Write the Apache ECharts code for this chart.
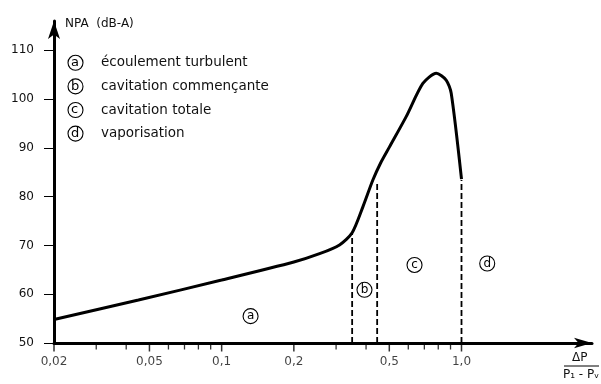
<!DOCTYPE html>
<html><head><meta charset="utf-8">
<script src="https://cdn.jsdelivr.net/npm/echarts@6/dist/echarts.min.js"></script>
<style>html,body{margin:0;padding:0;background:#fff}#c{width:601px;height:384px}</style>
</head><body><div id="c"></div>
<script>
// ---- data ----
const curveX = [0.02, 0.045, 0.1, 0.2, 0.256, 0.31, 0.35, 0.388, 0.427, 0.46, 0.501, 0.588, 0.69, 0.785, 0.863, 0.906, 1.0];
const curveY = [54.8, 58.8, 62.9, 66.6, 68.3, 70.1, 72.6, 77.9, 83.4, 86.9, 90.2, 96.4, 103.2, 105.3, 103.9, 101.2, 83.6];
const xTickValues = [0.02, 0.05, 0.1, 0.2, 0.5, 1.0];
const xTickLabels = ['0,02', '0,05', '0,1', '0,2', '0,5', '1,0'];
const xMinorTicks = [0.03, 0.04, 0.06, 0.07, 0.08, 0.09, 0.3, 0.4, 0.6, 0.7, 0.8, 0.9];
const yTickValues = [50, 60, 70, 80, 90, 100, 110];
const boundaryX = [0.35, 0.445, 1.0];
const boundaryTop = [72.4, 83.2, 83.4];
const regionKeys = ['a', 'b', 'c', 'd'];
const regionX = [0.132, 0.394, 0.637, 1.28];
const regionY = [55.5, 60.9, 66.0, 66.3];
const legendTexts = ['écoulement turbulent', 'cavitation commençante', 'cavitation totale', 'vaporisation'];
const yAxisName = 'NPA  (dB-A)';
const xAxisNum = 'ΔP';
const xAxisDen = 'P₁ - Pᵥ';

const FONT = 'DejaVu Sans';
const chart = echarts.init(document.getElementById('c'), null, { renderer: 'canvas' });

const series = [];
series.push({
  type: 'line', data: curveX.map((x, i) => [x, curveY[i]]),
  smooth: 0.25, showSymbol: false, symbol: 'none',
  lineStyle: { color: '#000', width: 3 }, z: 5, silent: true
});
boundaryX.forEach((bx, i) => {
  series.push({
    type: 'line', data: [[bx, 50], [bx, boundaryTop[i]]], symbol: 'none',
    lineStyle: { color: '#000', width: 1.8, type: [6, 3] }, z: 3, silent: true
  });
});
series.push({
  type: 'scatter', data: regionKeys.map((k, i) => ({ name: k, value: [regionX[i], regionY[i]] })),
  symbol: 'circle', symbolSize: 15,
  itemStyle: { color: '#fff', borderColor: '#000', borderWidth: 1.1, opacity: 1 },
  label: { show: true, position: 'inside', formatter: '{b}', color: '#000', fontSize: 12, fontFamily: FONT },
  z: 6, silent: true
});
// x-axis ticks and labels placed through the log scale
series.push({
  type: 'scatter', data: xTickValues.map(v => [v, 50]), clip: false,
  symbol: 'rect', symbolSize: [1.5, 7], symbolOffset: [0, 5],
  itemStyle: { color: '#000' }, z: 2, silent: true
});
series.push({
  type: 'scatter', data: xMinorTicks.map(v => [v, 50]), clip: false,
  symbol: 'rect', symbolSize: [1.3, 5], symbolOffset: [0, 4],
  itemStyle: { color: '#000' }, z: 2, silent: true
});
series.push({
  type: 'scatter', data: xTickValues.map(v => [v, 50]), clip: false,
  symbolSize: 0,
  label: { show: true, position: 'bottom', distance: 13, color: '#111', fontSize: 12, fontFamily: FONT,
    formatter: p => xTickLabels[p.dataIndex] },
  z: 2, silent: true
});

chart.setOption({
  animation: false,
  backgroundColor: '#fff',
  textStyle: { fontFamily: FONT },
  title: {
    left: 68, top: 51, padding: 0,
    text: regionKeys.map((k, i) => `{c|${k}}{t|${legendTexts[i]}}`).join('\n'),
    textStyle: {
      fontWeight: 'normal',
      rich: {
        c: { width: 9, height: 9, padding: [3, 3, 3, 3], borderRadius: 8, borderWidth: 1.1, borderColor: '#000',
             align: 'left', verticalAlign: 'middle', fontSize: 13, fontWeight: 'normal', color: '#000', fontFamily: FONT },
        t: { fontSize: 13.5, lineHeight: 23.6, padding: [0, 0, 0, 18], align: 'left', fontWeight: 'normal', color: '#111', fontFamily: FONT }
      }
    }
  },
  grid: { left: 54, right: 9, top: 21, bottom: 41, containLabel: false, outerBoundsMode: 'none' },
  xAxis: {
    type: 'log', logBase: 10, min: 0.02, max: 3.5,
    splitLine: { show: false },
    axisLine: { lineStyle: { color: '#000', width: 3 }, symbol: ['none', 'arrow'], symbolSize: [8, 18] },
    axisTick: { show: false }, axisLabel: { show: false }
  },
  yAxis: {
    type: 'value', min: 50, max: 116,
    name: yAxisName, nameLocation: 'end', nameGap: -3,
    nameTextStyle: { align: 'left', verticalAlign: 'middle', padding: [0, 0, 0, 11], fontSize: 12, color: '#111', fontFamily: FONT },
    splitLine: { show: false },
    axisLine: { lineStyle: { color: '#000', width: 3 }, symbol: ['none', 'arrow'], symbolSize: [9, 18] },
    axisTick: { show: true, length: 10, lineStyle: { color: '#000', width: 1 }, customValues: yTickValues },
    axisLabel: { margin: 20, fontSize: 12, color: '#111', fontFamily: FONT, customValues: yTickValues }
  },
  graphic: [
    { type: 'text', left: 572, top: 352, style: { text: xAxisNum, fontSize: 12, fill: '#111', fontFamily: FONT } },
    { type: 'line', shape: { x1: 564, y1: 366, x2: 599, y2: 366 }, style: { stroke: '#000', lineWidth: 1 } },
    { type: 'text', left: 563, top: 369, style: { text: xAxisDen, fontSize: 12, fill: '#111', fontFamily: FONT } }
  ],
  series
});
</script>
</body></html>
